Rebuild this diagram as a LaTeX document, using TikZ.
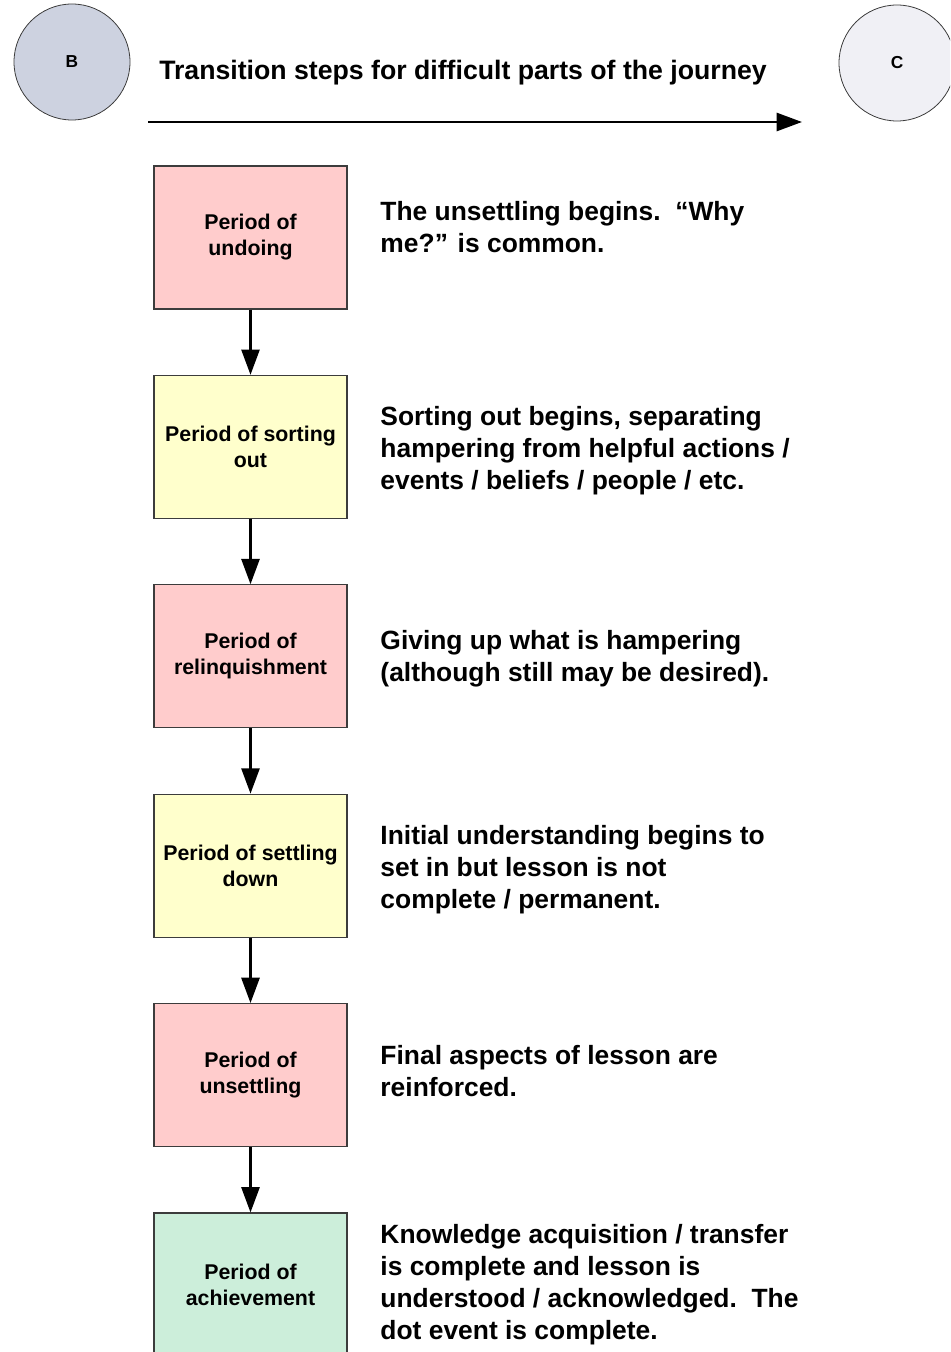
\documentclass[tikz,border=0pt]{standalone}
\usepackage{fontspec}
\setmainfont{Liberation Sans}
\usetikzlibrary{arrows.meta, positioning}
\definecolor{boxpink}{RGB}{255,204,204}
\definecolor{boxyellow}{RGB}{255,255,204}
\definecolor{boxgreen}{RGB}{204,238,218}
\definecolor{circleblue}{RGB}{205,210,224}
\definecolor{circlegrey}{RGB}{240,240,245}
\definecolor{edgegrey}{RGB}{60,60,60}

\begin{document}
\begin{tikzpicture}[
    x=0.75pt, y=-0.75pt,
    node distance=49pt,
    period/.style={draw=edgegrey, line width=0.8pt, minimum width=144.75pt, minimum height=107.25pt, align=center, inner sep=2pt, font=\bfseries\fontsize{16}{19.5}\selectfont},
    desc/.style={right=24.5pt of #1.east, anchor=west, align=left, inner sep=0pt, font=\bfseries\fontsize{19.8}{24}\selectfont},
    marker/.style={circle, draw=edgegrey, line width=0.6pt, minimum size=87pt, inner sep=0pt, font=\bfseries\fontsize{13}{15}\selectfont},
    arrow/.style={-{Triangle[length=19pt, width=13.5pt]}, line width=2pt, draw=black}
]
    \clip (0,0) rectangle (950,1352);
    \useasboundingbox (0,0) rectangle (950,1352);

    % Start and end of the journey
    \node[marker, fill=circleblue] (point_b) at (72,62) {B};
    \node[marker, fill=circlegrey] (point_c) at (897,63) {C};

    % Heading and direction arrow
    \node[font=\bfseries\fontsize{20}{23}\selectfont] (heading) at (463,73) {Transition steps for difficult parts of the journey};
    \coordinate (journey_start) at (148,122);
    \coordinate (journey_end) at (802,122);
    \draw[arrow] (journey_start) -- (journey_end);

    % Column of periods
    \node[period, fill=boxpink] (undoing) at (250.5,237.5) {Period of\\undoing};
    \node[period, fill=boxyellow, below=of undoing] (sorting) {Period of sorting\\out};
    \node[period, fill=boxpink, below=of sorting] (relinquish) {Period of\\relinquishment};
    \node[period, fill=boxyellow, below=of relinquish] (settling) {Period of settling\\down};
    \node[period, fill=boxpink, below=of settling] (unsettling) {Period of\\unsettling};
    \node[period, fill=boxgreen, below=of unsettling] (achieve) {Period of\\achievement};

    % Descriptions beside each period
    \node[desc=undoing, yshift=7.5pt] (undoing_txt) {The unsettling begins.\ \ ``Why\\me?'' is common.};
    \node[desc=sorting, yshift=-3pt] (sorting_txt) {Sorting out begins, separating\\hampering from helpful actions /\\events / beliefs / people / etc.};
    \node[desc=relinquish, yshift=-2pt] (relinquish_txt) {Giving up what is hampering\\(although still may be desired).};
    \node[desc=settling, yshift=-3pt] (settling_txt) {Initial understanding begins to\\set in but lesson is not\\complete / permanent.};
    \node[desc=unsettling, yshift=3pt] (unsettling_txt) {Final aspects of lesson are\\reinforced.};
    \node[desc=achieve] (achieve_txt) {Knowledge acquisition / transfer\\is complete and lesson is\\understood / acknowledged.\ \ The\\dot event is complete.};

    % Arrows between periods
    \draw[arrow] (undoing) -- (sorting);
    \draw[arrow] (sorting) -- (relinquish);
    \draw[arrow] (relinquish) -- (settling);
    \draw[arrow] (settling) -- (unsettling);
    \draw[arrow] (unsettling) -- (achieve);

\end{tikzpicture}
\end{document}
